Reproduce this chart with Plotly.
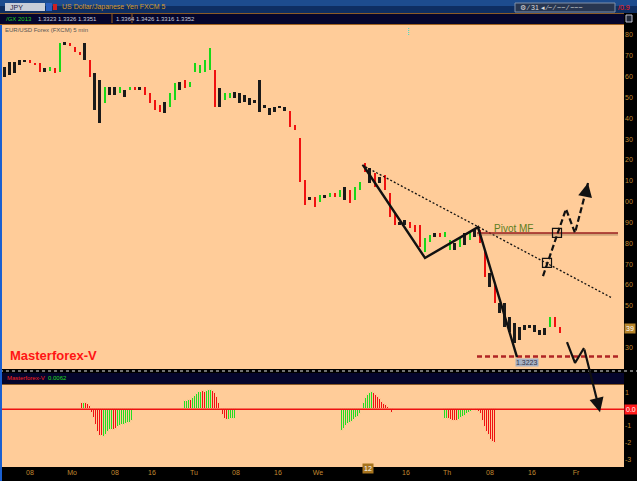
import plotly.graph_objects as go

W, H = 637, 481

# ---------------- data ----------------
# price bars (high / low) and bar colour class: u = up (green), d = down (red), n = neutral (black)
price_high = [1.33646, 1.33670, 1.33670, 1.33680, 1.33680, 1.33680, 1.33666, 1.33666, 1.33642, 1.33646,
              1.33642, 1.33762, 1.33766, 1.33762, 1.33742, 1.33718, 1.33762, 1.33680, 1.33618, 1.33584,
              1.33550, 1.33550, 1.33550, 1.33550, 1.33536, 1.33550, 1.33550, 1.33550, 1.33550, 1.33522,
              1.33488, 1.33464, 1.33478, 1.33522, 1.33570, 1.33574, 1.33584, 1.33574, 1.33666, 1.33656,
              1.33680, 1.33738, 1.33632, 1.33546, 1.33522, 1.33522, 1.33526, 1.33522, 1.33512, 1.33498,
              1.33488, 1.33584, 1.33464, 1.33450, 1.33454, 1.33459, 1.33454, 1.33435, 1.33368, 1.33306,
              1.33104, 1.33022, 1.33022, 1.33032, 1.33032, 1.33042, 1.33042, 1.33056, 1.33070, 1.33056,
              1.33070, 1.33094, 1.33186, 1.33162, 1.33138, 1.33118, 1.33128, 1.33042, 1.32946, 1.32902,
              1.32912, 1.32902, 1.32888, 1.32888, 1.32826, 1.32840, 1.32850, 1.32850, 1.32854, 1.32816,
              1.32802, 1.32830, 1.32850, 1.32854, 1.32864, 1.32864, 1.32768, 1.32658, 1.32600, 1.32514,
              1.32514, 1.32446, 1.32418, 1.32398, 1.32408, 1.32408, 1.32408, 1.32384, 1.32394, 1.32446,
              1.32446, 1.32398]
price_low = [1.33598, 1.33608, 1.33618, 1.33656, 1.33670, 1.33666, 1.33656, 1.33622, 1.33622, 1.33627,
             1.33618, 1.33622, 1.33752, 1.33747, 1.33718, 1.33704, 1.33680, 1.33598, 1.33440, 1.33378,
             1.33474, 1.33512, 1.33512, 1.33522, 1.33502, 1.33536, 1.33536, 1.33536, 1.33512, 1.33474,
             1.33440, 1.33430, 1.33426, 1.33454, 1.33488, 1.33536, 1.33546, 1.33550, 1.33622, 1.33618,
             1.33622, 1.33632, 1.33454, 1.33454, 1.33488, 1.33498, 1.33498, 1.33474, 1.33478, 1.33464,
             1.33474, 1.33430, 1.33450, 1.33416, 1.33430, 1.33450, 1.33435, 1.33358, 1.33344, 1.33094,
             1.32984, 1.33008, 1.32974, 1.32998, 1.33018, 1.33022, 1.33022, 1.33022, 1.33008, 1.32994,
             1.33008, 1.33056, 1.33142, 1.33090, 1.33070, 1.33090, 1.33056, 1.32926, 1.32888, 1.32888,
             1.32888, 1.32874, 1.32854, 1.32782, 1.32758, 1.32806, 1.32830, 1.32830, 1.32830, 1.32768,
             1.32768, 1.32782, 1.32792, 1.32816, 1.32830, 1.32802, 1.32638, 1.32590, 1.32514, 1.32466,
             1.32398, 1.32374, 1.32322, 1.32336, 1.32384, 1.32394, 1.32374, 1.32360, 1.32360, 1.32398,
             1.32398, 1.32370]
price_signal = list("nnnnndddnudundddndnnunnunudnddddnuundu"
                    "uuuudnuunnnnnnnnnnnddddndunudundu"
                    "udndnddd" "nndddu" "undu" "unu" "nundd" "nd" "nnnnnnnnnnudd")

# right-axis price ticks (the 1.3240 label is hidden under the last-price box)
price_ticks = [1.3230, 1.3250, 1.3260, 1.3270, 1.3280, 1.3290, 1.3300,
               1.3310, 1.3320, 1.3330, 1.3340, 1.3350, 1.3360, 1.3370, 1.3380]
price_tick_text = ["30", "50", "60", "70", "80", "90", "00",
                   "10", "20", "30", "40", "50", "60", "70", "80"]
last_price = 1.32391
last_price_text = "39"

time_tick_pos = [5.1, 13.5, 22.1, 29.5, 37.9, 46.3, 54.7, 62.7, 72.7, 80.3, 88.5, 97.1, 105.5, 114.3]
time_tick_text = ["08", "Mo", "08", "16", "Tu", "08", "16", "We", "12", "16", "Th", "08", "16", "Fr"]
highlight_tick = 8   # this time label is drawn inside a highlighted box

# Masterforex-V oscillator histogram, four active blocks (start bar, step 0.4 bar)
osc_step = 0.4
osc_starts = [15.4, 36.0, 67.4, 88.0]
osc_vals_1 = [0.36, 0.36, 0.36, 0.30, 0.18, -0.24, -0.54, -0.96, -1.38, -1.62, -1.62, -1.68, -1.56,
              -1.38, -1.26, -1.26, -1.26, -1.20, -1.08, -1.02, -0.96, -0.96, -0.90, -0.84, -0.84, -0.72]
osc_vals_2 = [0.50, 0.52, 0.56, 0.56, 0.66, 0.80, 0.90, 1.02, 1.06, 1.10, 1.06, 1.10, 1.16,
              1.16, 1.12, 0.96, 0.76, 0.36, 0.0, -0.34, -0.58, -0.64, -0.64, -0.60, -0.60, -0.56]
osc_vals_3 = [-1.30, -1.20, -1.00, -0.88, -0.80, -0.74, -0.64, -0.54, -0.44, -0.28, 0.0, 0.36, 0.66,
              0.86, 1.00, 1.06, 0.96, 0.86, 0.72, 0.60, 0.46, 0.30, 0.24, 0.16, 0.0, -0.24]
osc_vals_4 = [-0.56, -0.58, -0.60, -0.64, -0.68, -0.70, -0.68, -0.64, -0.54, -0.48, -0.40, -0.30, -0.24,
              -0.14, -0.06, 0.0, -0.08, -0.18, -0.30, -0.68, -1.04, -1.38, -1.54, -1.84, -1.94, -2.04]
osc_sig_1 = "rgrrrrrrrrrgggggrrgggggggg"
osc_sig_2 = "gggrgggggrrgggrrrrrrrrgggg"
osc_sig_3 = "ggggggggggggggggrrrrrrrrrr"
osc_sig_4 = "ggrrrrrgggggggggrrrrrrrrrr"
osc_ticks = [1, -1, -2, -3]
osc_tick_text = ["1", "-1", "-2", "-3"]

# analyst drawings (bar index, price)
trend_x, trend_y = [71.5, 121.5], [1.33176, 1.32538]
zigzag_x, zigzag_y = [71.7, 84.1, 94.7, 102.5], [1.33176, 1.32730, 1.32878, 1.32254]
pivot_x, pivot_level = [94.5, 122.7], 1.32850
support_x, support_level = [94.5, 122.7], 1.32257
up_x, up_y = [107.7, 112.3, 114.1, 116.7], [1.32643, 1.32965, 1.32850, 1.33090]
box_x, box_y = [108.5, 110.5], [1.32706, 1.32850]
down_x, down_y = [112.5, 114.1, 115.9, 119.1], [1.32326, 1.32226, 1.32298, 1.31990]


# ---------------- figure ----------------
def px(x):
    return x / W


def py(y):
    return 1 - y / H


PEACH = "#ffcc99"
NAVY = "#05052c"
TAN = "#c08a30"
FONT = "Liberation Sans"
col_map = {"u": "#18d818", "d": "#f01010", "n": "#1a1a1a"}
osc_col = {"g": "#22dd22", "r": "#ee1111"}

fig = go.Figure()

bar_idx = list(range(len(price_high)))
fig.add_trace(go.Bar(
    x=bar_idx, y=[h - l for h, l in zip(price_high, price_low)], base=price_low,
    width=[0.56 if s == "n" else 0.4 for s in price_signal],
    marker=dict(color=[col_map[s] for s in price_signal], line=dict(width=0)),
    xaxis="x", yaxis="y", showlegend=False, hoverinfo="skip"))

hx, hy, hc = [], [], []
for start, vals, sig in zip(osc_starts, [osc_vals_1, osc_vals_2, osc_vals_3, osc_vals_4],
                            [osc_sig_1, osc_sig_2, osc_sig_3, osc_sig_4]):
    for k, (v, s) in enumerate(zip(vals, sig)):
        hx.append(start + k * osc_step)
        hy.append(v)
        hc.append(osc_col[s])
# full-step bars with a 1px peach outline -> 1px coloured stripes with 1px gaps
fig.add_trace(go.Bar(x=hx, y=hy, width=osc_step, marker=dict(color=hc, line=dict(width=1, color=PEACH)),
                     xaxis="x2", yaxis="y2", showlegend=False, hoverinfo="skip"))

# drawings
fig.add_trace(go.Scatter(x=trend_x, y=trend_y, mode="lines",
                         line=dict(color="#111111", width=1.3, dash="2px,2px"),
                         showlegend=False, hoverinfo="skip"))
fig.add_trace(go.Scatter(x=pivot_x, y=[pivot_level - 0.00008] * 2, mode="lines",
                         line=dict(color="rgba(120,90,60,0.35)", width=2.5),
                         showlegend=False, hoverinfo="skip"))
fig.add_trace(go.Scatter(x=pivot_x, y=[pivot_level] * 2, mode="lines",
                         line=dict(color="#9b1f1f", width=1.6), showlegend=False, hoverinfo="skip"))
fig.add_trace(go.Scatter(x=support_x, y=[support_level] * 2, mode="lines",
                         line=dict(color="#b02424", width=2.6, dash="5px,3px"),
                         showlegend=False, hoverinfo="skip"))
fig.add_trace(go.Scatter(x=zigzag_x, y=zigzag_y, mode="lines",
                         line=dict(color="#111111", width=2.4), showlegend=False, hoverinfo="skip"))
fig.add_trace(go.Scatter(x=up_x, y=up_y, mode="lines",
                         line=dict(color="#111111", width=2.2, dash="6px,3px"),
                         showlegend=False, hoverinfo="skip"))
fig.add_trace(go.Scatter(x=box_x, y=box_y, mode="markers",
                         marker=dict(symbol="square-open", size=9, color="#111111", line=dict(width=1.2)),
                         showlegend=False, hoverinfo="skip"))
fig.add_trace(go.Scatter(x=down_x[:3], y=down_y[:3], mode="lines",
                         line=dict(color="#111111", width=2.2), showlegend=False, hoverinfo="skip"))

ann = []
small = dict(family=FONT, size=7)
# arrows
ann.append(dict(x=up_x[-1], y=up_y[-1], ax=up_x[-1] - 0.35, ay=up_y[-1] - 0.0004,
                xref="x", yref="y", axref="x", ayref="y", showarrow=True, text="",
                arrowhead=2, arrowsize=1.4, arrowwidth=2, arrowcolor="#111111"))
ann.append(dict(x=down_x[-1], y=down_y[-1], ax=down_x[-2], ay=down_y[-2],
                xref="x", yref="y", axref="x", ayref="y", showarrow=True, text="",
                arrowhead=2, arrowsize=1.3, arrowwidth=2.2, arrowcolor="#111111"))
ann.append(dict(x=101.7, y=1.32872, xref="x", yref="y", text="Pivot MF", showarrow=False,
                font=dict(family=FONT, size=10, color="#5d7d1e")))
ann.append(dict(x=104.5, y=1.32228, xref="x", yref="y", text="1.3223", showarrow=False,
                font=dict(family=FONT, size=7, color="#333344"), bgcolor="#a9b2c4", borderpad=0))
ann.append(dict(x=px(8), y=py(355), xref="paper", yref="paper", xanchor="left", yanchor="middle",
                text="<b>Masterforex-V</b>", showarrow=False,
                font=dict(family=FONT, size=13, color="#ff1414")))
# price boxes on right axis
ann.append(dict(x=px(624), y=last_price, xref="paper", yref="y", xanchor="left", yanchor="middle",
                text=last_price_text, showarrow=False, bgcolor="#b8862b",
                font=dict(family=FONT, size=7, color="#ffffff"), borderpad=1))
ann.append(dict(x=px(624), y=0, xref="paper", yref="y2", xanchor="left", yanchor="middle",
                text="0.0", showarrow=False, bgcolor="#ff1a1a",
                font=dict(family=FONT, size=7, color="#ffffff"), borderpad=1))
ann.append(dict(x=time_tick_pos[highlight_tick], y=py(474), xref="x2", yref="paper",
                text=time_tick_text[highlight_tick], showarrow=False, bgcolor="#a8741e",
                font=dict(family=FONT, size=7, color="#ffffff"), borderpad=1))
# header texts
ann.append(dict(x=px(8), y=py(7), xref="paper", yref="paper", xanchor="left", yanchor="middle",
                text="JPY", showarrow=False, font=dict(small, color="#222244")))
ann.append(dict(x=px(60), y=py(7), xref="paper", yref="paper", xanchor="left", yanchor="middle",
                text="US Dollar/Japanese Yen FXCM 5", showarrow=False, font=dict(small, color="#d89a2a")))
ann.append(dict(x=px(616), y=py(7), xref="paper", yref="paper", xanchor="left", yanchor="middle",
                text="/0.9", showarrow=False, font=dict(small, color="#ff2020")))
ann.append(dict(x=px(518), y=py(7), xref="paper", yref="paper", xanchor="left", yanchor="middle",
                text="⚙ ⁄ 31 ◂ ⁄~ ⁄ ~~ ⁄ ~~~", showarrow=False, font=dict(small, color="#dddddd")))
ann.append(dict(x=px(4), y=py(19), xref="paper", yref="paper", xanchor="left", yanchor="middle",
                text="/GX 2013", showarrow=False, font=dict(small, size=6, color="#20d020")))
ann.append(dict(x=px(36), y=py(19), xref="paper", yref="paper", xanchor="left", yanchor="middle",
                text="1.3323 1.3326 1.3351", showarrow=False, font=dict(small, size=6, color="#c8c8d8")))
ann.append(dict(x=px(114), y=py(19), xref="paper", yref="paper", xanchor="left", yanchor="middle",
                text="1.3364", showarrow=False, font=dict(small, size=6, color="#c8c8d8")))
ann.append(dict(x=px(134), y=py(19), xref="paper", yref="paper", xanchor="left", yanchor="middle",
                text="1.3426 1.3316 1.3352", showarrow=False, font=dict(small, size=6, color="#c8c8d8")))
ann.append(dict(x=px(3), y=py(30), xref="paper", yref="paper", xanchor="left", yanchor="middle",
                text="EUR/USD Forex (FXCM) 5 min", showarrow=False, font=dict(small, size=6, color="#555555")))
ann.append(dict(x=px(408), y=py(32), xref="paper", yref="paper", xanchor="center", yanchor="middle",
                text="⁞", showarrow=False, font=dict(small, size=9, color="#22dddd")))
ann.append(dict(x=px(5), y=py(378), xref="paper", yref="paper", xanchor="left", yanchor="middle",
                text="Masterforex-V", showarrow=False, font=dict(small, size=6, color="#ff2020")))
ann.append(dict(x=px(46), y=py(378), xref="paper", yref="paper", xanchor="left", yanchor="middle",
                text="0.0062", showarrow=False, font=dict(small, size=6, color="#22dd22")))

shapes = []


def rect(x0, y0, x1, y1, fill, line=None):
    shapes.append(dict(type="rect", xref="paper", yref="paper", x0=px(x0), x1=px(x1),
                       y0=py(y1), y1=py(y0), fillcolor=fill,
                       line=dict(width=0) if line is None else line))


def hline(x0, x1, y, color, width=1, dash="solid"):
    shapes.append(dict(type="line", xref="paper", yref="paper", x0=px(x0), x1=px(x1),
                       y0=py(y), y1=py(y), line=dict(color=color, width=width, dash=dash)))


rect(0, 0, 637, 6, "#1d4c8e")
rect(0, 6, 637, 13, "#0e2e62")
rect(5, 3, 45, 11, "#c9ced8")
rect(46, 3, 52, 11, "#2a60c0")
rect(53, 4, 57, 10, "#d02020")
rect(515, 3, 615, 12, "#283650", line=dict(color="#8090a8", width=1))
rect(0, 13, 637, 25, NAVY)
hline(0, 624, 13.5, "#8a5a26", 1)
hline(0, 624, 24.5, "#a0621e", 1)
shapes.append(dict(type="line", xref="paper", yref="paper", x0=px(112), x1=px(112), y0=py(23), y1=py(14),
                   line=dict(color="#a0621e", width=1)))
shapes.append(dict(type="line", xref="paper", yref="paper", x0=px(132), x1=px(132), y0=py(23), y1=py(14),
                   line=dict(color="#a0621e", width=1)))
rect(624, 13, 637, 25, "#000000")
rect(626, 15, 632, 22, "#202838", line=dict(color="#c0c0d0", width=1))
# separator and lower header
rect(0, 369, 637, 373, "#000000")
hline(0, 637, 371, "#707070", 2, "dot")
rect(0, 373, 624, 384, NAVY)
hline(0, 624, 384.5, "#8a5a26", 1)
# left blue border
rect(0, 25, 2, 481, "#1a5fd0")
# zero line in oscillator
shapes.append(dict(type="line", xref="paper", yref="y2", x0=px(2), x1=px(624), y0=0, y1=0,
                   line=dict(color="#ee1111", width=1.5)))

axis_common = dict(showgrid=False, zeroline=False, showline=False, fixedrange=True)
bottom_text = [("" if i == highlight_tick else t) for i, t in enumerate(time_tick_text)]
fig.update_layout(
    width=W, height=H, margin=dict(l=0, r=0, t=0, b=0),
    paper_bgcolor="#000000", plot_bgcolor=PEACH,
    barmode="overlay", bargap=0, showlegend=False,
    xaxis=dict(domain=[px(2), px(624)], range=[-0.5, 123.9], anchor="y",
               showticklabels=False, ticks="", **axis_common),
    yaxis=dict(domain=[py(369), py(25)], range=[1.32197, 1.33848], anchor="x", side="right",
               tickvals=price_ticks, ticktext=price_tick_text, ticks="", automargin=False,
               tickfont=dict(family=FONT, size=7, color=TAN), **axis_common),
    xaxis2=dict(domain=[px(2), px(624)], range=[-0.5, 123.9], anchor="y2", matches="x",
                tickvals=time_tick_pos, ticktext=bottom_text, ticks="", automargin=False,
                tickfont=dict(family=FONT, size=7, color=TAN), **axis_common),
    yaxis2=dict(domain=[py(467), py(385)], range=[-3.46, 1.46], anchor="x2", side="right",
                tickvals=osc_ticks, ticktext=osc_tick_text, ticks="", automargin=False,
                tickfont=dict(family=FONT, size=7, color=TAN), **axis_common),
    shapes=shapes, annotations=ann,
)

fig.write_html("out.html", config={"displayModeBar": False},
               post_script="document.body.style.margin='0';document.body.style.overflow='hidden';"
                           "document.body.style.background='#000';")
